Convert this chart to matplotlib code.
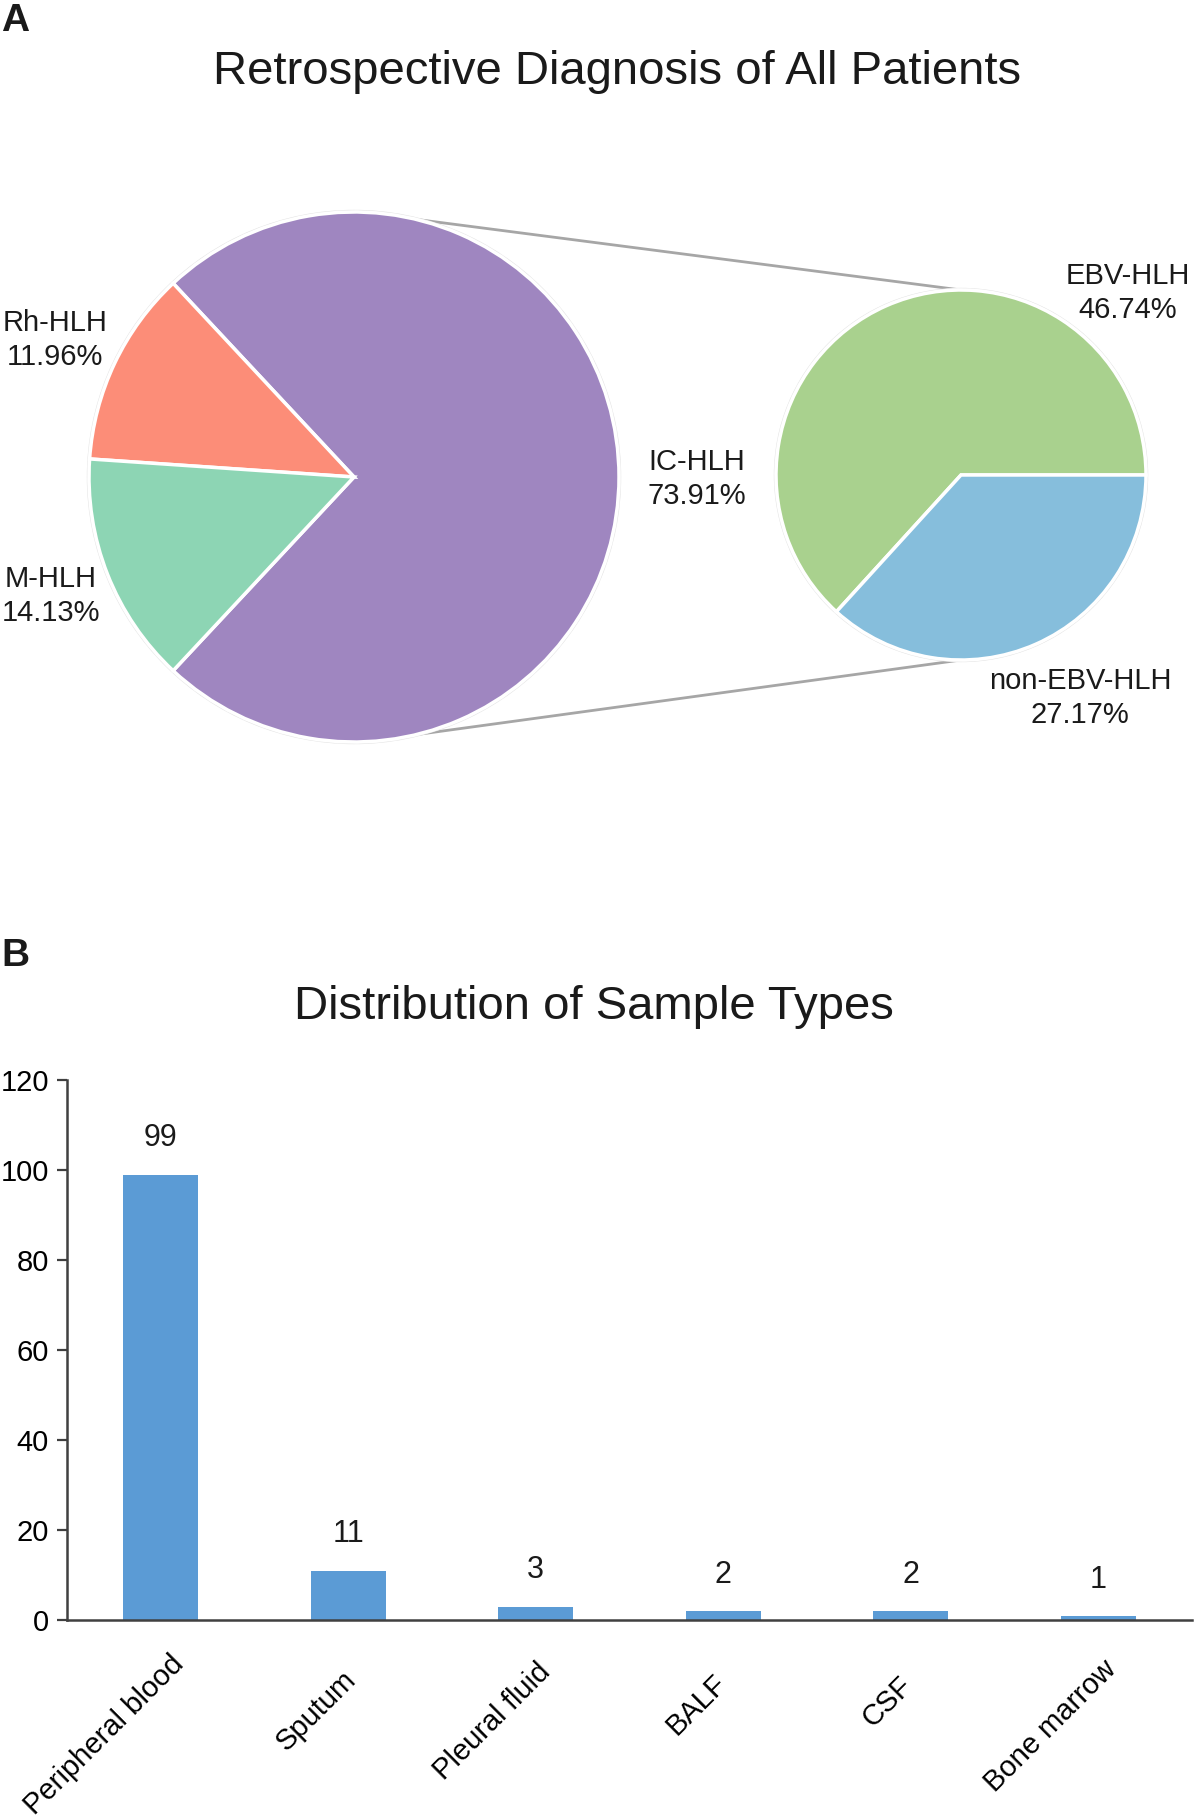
import numpy as np
import matplotlib.pyplot as plt
from matplotlib.transforms import ScaledTranslation

plt.rcParams['font.family'] = ['Liberation Sans', 'DejaVu Sans']
plt.rcParams['text.color'] = '#1a1a1a'

# panel A: diagnosis shares (% of all patients)
diag_labels = ['IC-HLH', 'Rh-HLH', 'M-HLH']
diag_pct = [73.91, 11.96, 14.13]
diag_colors = ['#9f86c0', '#fc8d78', '#8dd5b4']
# breakdown of IC-HLH
ic_labels = ['EBV-HLH', 'non-EBV-HLH']
ic_pct = [46.74, 27.17]
ic_colors = ['#a9d18e', '#86bedc']

# panel B: sample types
sample_types = ['Peripheral blood', 'Sputum', 'Pleural fluid', 'BALF', 'CSF', 'Bone marrow']
sample_counts = [99, 11, 3, 2, 2, 1]

W, H = 1194, 1818
fig = plt.figure(figsize=(W / 100, H / 100), dpi=100)

# ---- panel A, drawn in pixel-like units
ax = fig.add_axes([0, 0, 1, 1])
big_c, big_r = (354, H - 477), 265
small_c, small_r = (961, H - 475), 185
wp = dict(edgecolor='white', linewidth=2.5)

for c, r in ((big_c, big_r), (small_c, small_r)):
    ax.add_patch(plt.Circle(c, r + 1.5, fc='none', ec='#e4e4e4', lw=1, zorder=0.5))

ax.pie(diag_pct, colors=diag_colors, startangle=-180 * diag_pct[0] / 100,
       center=big_c, radius=big_r, wedgeprops=wp)
ax.pie(ic_pct, colors=ic_colors, startangle=0,
       center=small_c, radius=small_r, wedgeprops=wp)

# connector lines between the two pies
for sgn in (1, -1):
    a = np.deg2rad(76.5 * sgn)
    x0 = big_c[0] + big_r * np.cos(a)
    y0 = big_c[1] + big_r * np.sin(a)
    ax.plot([x0, small_c[0]], [y0, small_c[1] + sgn * small_r],
            color='#a6a6a6', lw=2, zorder=0)

lab_kw = dict(ha='center', va='center', fontsize=21, linespacing=1.25)
ax.text(55, H - 340, f'{diag_labels[1]}\n{diag_pct[1]:.2f}%', **lab_kw)
ax.text(51, H - 596, f'{diag_labels[2]}\n{diag_pct[2]:.2f}%', **lab_kw)
ax.text(697, H - 479, f'{diag_labels[0]}\n{diag_pct[0]:.2f}%', **lab_kw)
ax.text(1128, H - 293, f'{ic_labels[0]}\n{ic_pct[0]:.2f}%', **lab_kw)
ax.text(1080, H - 698, f'{ic_labels[1]}\n{ic_pct[1]:.2f}%', **lab_kw)

ax.set_xlim(0, W)
ax.set_ylim(0, H)
ax.set_aspect('equal')
ax.axis('off')

fig.text(1 / W, 1 - 21 / H, 'A', fontsize=28, fontweight='bold', va='center', ha='left')
fig.text(617 / W, 1 - 72 / H, 'Retrospective Diagnosis of All Patients',
         fontsize=34, ha='center', va='center')
fig.text(1 / W, 1 - 956 / H, 'B', fontsize=28, fontweight='bold', va='center', ha='left')
fig.text(594 / W, 1 - 1007 / H, 'Distribution of Sample Types',
         fontsize=34, ha='center', va='center')

# ---- panel B
bx = fig.add_axes([67 / W, (H - 1620) / H, (1192 - 67) / W, 540 / H])
x = np.arange(len(sample_types))
bars = bx.bar(x, sample_counts, width=0.4, color='#5b9bd5')
for b, v in zip(bars, sample_counts):
    bx.annotate(str(v), (b.get_x() + b.get_width() / 2, v), xytext=(0, 36),
                textcoords='offset pixels', ha='center', va='center', fontsize=22)

bx.set_xlim(-0.5, 5.5)
bx.set_ylim(0, 120)
bx.set_yticks(range(0, 121, 20))
bx.set_xticks(x)
bx.set_xticklabels(sample_types, rotation=45, ha='right', va='center',
                   rotation_mode='anchor', fontsize=21)
bx.tick_params(axis='x', length=0, pad=50)
bx.tick_params(axis='y', length=7, width=1.6, color='#404040', labelsize=21, pad=6)
for s in ('top', 'right'):
    bx.spines[s].set_visible(False)
for s in ('left', 'bottom'):
    bx.spines[s].set_color('#404040')
    bx.spines[s].set_linewidth(1.8)

# rotated labels sit a bit along their own length, like the original
fig.canvas.draw()
rend = fig.canvas.get_renderer()
for lab in bx.get_xticklabels():
    w, _, _ = rend.get_text_width_height_descent(lab.get_text(), lab.get_fontproperties(), ismath=False)
    d = 0.2 * w * np.cos(np.pi / 4)
    lab.set_transform(lab.get_transform() + ScaledTranslation((d - 11) / 100, d / 100, fig.dpi_scale_trans))

fig.savefig('out.png', dpi=100)
